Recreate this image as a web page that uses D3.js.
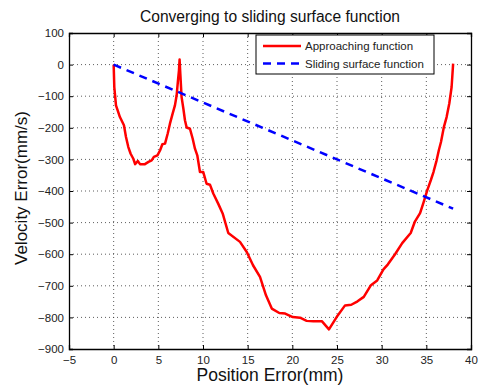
<!DOCTYPE html>
<html>
<head>
<meta charset="utf-8">
<script src="https://cdnjs.cloudflare.com/ajax/libs/d3/7.8.5/d3.min.js"></script>
<style>
  body { margin: 0; background: #fff; }
  text { font-family: "Liberation Sans", Arial, sans-serif; }
</style>
</head>
<body>
<svg id="drawing_region"></svg>
<script>
// approaching function (position error mm, velocity error mm/s)
const approachX = [0, 0.07, 0.26, 0.7, 1.15, 1.38, 1.64, 1.9, 2.2, 2.4, 2.7, 2.95, 3.5, 3.9, 4.25, 4.5, 4.9, 5.2, 5.45, 5.75, 6.05, 6.3, 6.6, 6.86, 7.05, 7.2, 7.31, 7.38,
    7.46, 7.6, 7.8, 7.98, 8.17, 8.54, 8.84, 9.1, 9.36, 9.66, 10.03, 10.4, 10.78, 11.15, 11.7, 12.2, 12.83, 14.14, 14.9, 15.6, 16.38, 17.05, 17.7, 18.54, 19.2,
    20.04, 20.86, 21.6, 22.34, 23.3, 24.1, 24.96, 25.9, 26.6, 27.3, 28.0, 28.8, 29.5, 30.2, 30.7, 31.5, 32.3, 33.25, 33.7, 34.3, 34.7, 35.1, 35.5, 35.8,
    36.15, 36.4, 36.64, 36.97, 37.27, 37.57, 37.83, 38.0];
const approachY = [0, -71, -129, -166, -192, -229, -261, -282, -298, -315, -305, -315, -315, -308, -303, -292, -287, -271, -252, -250, -218, -187, -155, -129, -97, -50, -18, 16,
    -28, -102, -139, -176, -199, -203, -234, -266, -287, -340, -340, -377, -380, -408, -440, -471, -533, -561, -593, -635, -672, -730, -772, -786, -788,
    -799, -801, -811, -812, -812, -838, -799, -762, -760, -749, -735, -698, -683, -648, -632, -600, -565, -533, -498, -470, -435, -398, -366, -340,
    -303, -271, -245, -197, -166, -123, -71, 3];
// sliding surface function
const slideX = [0, 38];
const slideY = [0, -456];

const xTicks = [-5, 0, 5, 10, 15, 20, 25, 30, 35, 40];
const yTicks = [100, 0, -100, -200, -300, -400, -500, -600, -700, -800, -900];

const seriesNames = ["Approaching function", "Sliding surface function"];

const width = 482, height = 388;
const margin = {top: 33, right: 11, bottom: 39, left: 69};
const innerW = width - margin.left - margin.right;
const innerH = height - margin.top - margin.bottom;

const svg = d3.select("#drawing_region")
    .attr("width", width)
    .attr("height", height);

const chart = svg.append("g")
    .attr("transform", `translate(${margin.left}, ${margin.top})`);

const xscale = d3.scaleLinear().domain([-5, 40]).range([0, innerW]);
const yscale = d3.scaleLinear().domain([-900, 100]).range([innerH, 0]);

const fmt = d => d < 0 ? "\u2212" + Math.abs(d) : String(d);

// grid
chart.append("g").selectAll("line")
    .data(xTicks.slice(1, -1))
    .join("line")
    .attr("x1", d => xscale(d)).attr("x2", d => xscale(d))
    .attr("y1", 0).attr("y2", innerH)
    .attr("stroke", "#333").attr("stroke-width", 0.8)
    .attr("stroke-dasharray", "1,3");
chart.append("g").selectAll("line")
    .data(yTicks.slice(1, -1))
    .join("line")
    .attr("y1", d => yscale(d)).attr("y2", d => yscale(d))
    .attr("x1", 0).attr("x2", innerW)
    .attr("stroke", "#333").attr("stroke-width", 0.8)
    .attr("stroke-dasharray", "1,3");

// axes (ticks inside)
const xaxis = d3.axisBottom(xscale).tickValues(xTicks).tickSize(-4).tickPadding(7).tickFormat(fmt);
const yaxis = d3.axisLeft(yscale).tickValues(yTicks).tickSize(-4).tickPadding(5).tickFormat(fmt);

const xg = chart.append("g").attr("transform", `translate(0, ${innerH})`).call(xaxis);
const yg = chart.append("g").call(yaxis);
chart.append("g").call(d3.axisTop(xscale).tickValues(xTicks).tickSize(-4).tickFormat(""));
chart.append("g").attr("transform", `translate(${innerW}, 0)`)
    .call(d3.axisRight(yscale).tickValues(yTicks).tickSize(-4).tickFormat(""));

chart.selectAll(".domain").attr("stroke", "#000").attr("stroke-width", 1.3);
chart.selectAll(".tick line").attr("stroke", "#000");
chart.selectAll(".tick text").attr("font-size", "11.5px").attr("fill", "#222")
    .attr("font-family", "Liberation Sans, Arial, sans-serif");

// lines
const line = d3.line().x(d => xscale(d[0])).y(d => yscale(d[1]));

chart.append("path")
    .datum(approachX.map((x, i) => [x, approachY[i]]))
    .attr("d", line)
    .attr("fill", "none")
    .attr("stroke", "#ff0000")
    .attr("stroke-width", 2.5)
    .attr("stroke-linejoin", "round");

chart.append("path")
    .datum(slideX.map((x, i) => [x, slideY[i]]))
    .attr("d", line)
    .attr("fill", "none")
    .attr("stroke", "#0000ff")
    .attr("stroke-width", 2.5)
    .attr("stroke-dasharray", "8,6");

// legend
const legend = svg.append("g").attr("transform", "translate(256, 35)");
legend.append("rect")
    .attr("width", 178).attr("height", 39)
    .attr("fill", "#fff").attr("stroke", "#000").attr("stroke-width", 1);
const colors = ["#ff0000", "#0000ff"];
const dashes = [null, "8,6"];
seriesNames.forEach((name, i) => {
    const yy = 11 + i * 17.5;
    legend.append("line")
        .attr("x1", 7).attr("x2", 45).attr("y1", yy).attr("y2", yy)
        .attr("stroke", colors[i]).attr("stroke-width", 2.5)
        .attr("stroke-dasharray", dashes[i]);
    legend.append("text")
        .attr("x", 49).attr("y", yy + 4)
        .attr("font-size", "11.5px").attr("fill", "#222")
        .text(name);
});

// title and labels
svg.append("text")
    .attr("x", 270).attr("y", 22)
    .attr("text-anchor", "middle")
    .attr("font-size", "15.6px").attr("fill", "#111")
    .text("Converging to sliding surface function");

svg.append("text")
    .attr("x", 270).attr("y", 381)
    .attr("text-anchor", "middle")
    .attr("font-size", "17.5px").attr("fill", "#111")
    .text("Position Error(mm)");

svg.append("text")
    .attr("transform", "translate(27, 188) rotate(-90)")
    .attr("text-anchor", "middle")
    .attr("font-size", "17px").attr("fill", "#111")
    .text("Velocity Error(mm/s)");
</script>
</body>
</html>
